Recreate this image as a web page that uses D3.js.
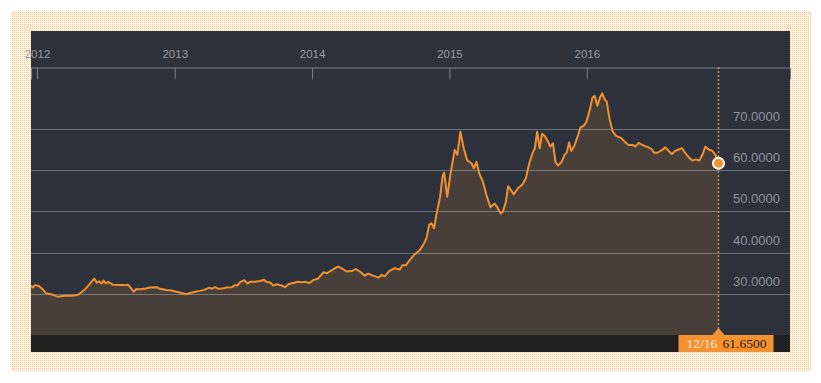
<!DOCTYPE html>
<html>
<head>
<meta charset="utf-8">
<script src="https://cdn.jsdelivr.net/npm/d3@7"></script>
<style>
  body { margin: 0; background: #fff; }
  text { font-family: "Liberation Sans", Arial, sans-serif; }
  text.tag { font-family: "Liberation Serif", "Times New Roman", serif; }
</style>
</head>
<body>
<div id="chart"></div>
<script>
// price history
var dates = [
  "2011-12-16","2011-12-21","2011-12-27","2012-01-06","2012-01-16","2012-01-25","2012-02-07","2012-02-25","2012-03-14","2012-03-31",
  "2012-04-18","2012-04-27","2012-05-10","2012-05-23","2012-06-01","2012-06-08","2012-06-14","2012-06-21","2012-06-26","2012-07-02",
  "2012-07-08","2012-07-20","2012-08-06","2012-08-24","2012-08-30","2012-09-07","2012-09-14","2012-09-20","2012-10-03","2012-10-16",
  "2012-10-27","2012-11-14","2012-11-22","2012-12-10","2012-12-23","2013-01-06","2013-01-20","2013-01-31","2013-02-11","2013-02-24",
  "2013-03-09","2013-03-22","2013-04-03","2013-04-09","2013-04-18","2013-04-27","2013-05-06","2013-05-19","2013-06-02","2013-06-10",
  "2013-06-16","2013-06-24","2013-07-05","2013-07-13","2013-07-20","2013-08-02","2013-08-16","2013-08-26","2013-09-03","2013-09-11",
  "2013-09-20","2013-09-29","2013-10-12","2013-10-21","2013-10-30","2013-11-12","2013-11-25","2013-12-04","2013-12-13","2013-12-25",
  "2014-01-04","2014-01-17","2014-01-31","2014-02-10","2014-02-22","2014-03-03","2014-03-11","2014-03-20","2014-04-03","2014-04-16",
  "2014-04-27","2014-05-08","2014-05-21","2014-05-30","2014-06-12","2014-06-26","2014-07-05","2014-07-13","2014-07-25",
  "2014-08-09","2014-08-22","2014-08-29","2014-09-07","2014-09-18","2014-10-01","2014-10-14","2014-10-23","2014-11-01","2014-11-08",
  "2014-11-14","2014-11-21","2014-11-28","2014-12-07","2014-12-14","2014-12-18","2014-12-26","2015-01-04","2015-01-15","2015-01-22",
  "2015-01-30","2015-02-08","2015-02-17","2015-03-01","2015-03-07","2015-03-14","2015-03-21","2015-03-31","2015-04-09","2015-04-20",
  "2015-05-01","2015-05-08","2015-05-17","2015-05-23","2015-05-31","2015-06-06",
  "2015-06-10","2015-06-21","2015-07-02","2015-07-14","2015-07-23","2015-08-01","2015-08-10","2015-08-16","2015-08-22","2015-08-29",
  "2015-09-04","2015-09-11","2015-09-20","2015-09-26","2015-10-03","2015-10-10","2015-10-17","2015-10-26","2015-11-03","2015-11-09",
  "2015-11-15","2015-11-21","2015-11-30","2015-12-09","2015-12-15","2015-12-24","2015-12-31","2016-01-09","2016-01-16","2016-01-22",
  "2016-01-29","2016-02-06","2016-02-11","2016-02-17","2016-02-23","2016-03-01","2016-03-10","2016-03-19","2016-04-01","2016-04-13",
  "2016-04-21",
  "2016-05-02","2016-05-09","2016-05-18","2016-05-27","2016-06-04","2016-06-13","2016-06-22","2016-06-28","2016-07-07","2016-07-19",
  "2016-07-28","2016-08-05","2016-08-14","2016-08-23","2016-09-01","2016-09-10","2016-09-19","2016-09-30","2016-10-08","2016-10-17",
  "2016-10-26","2016-11-04","2016-11-11","2016-11-20","2016-11-29","2016-12-08","2016-12-16"
];
var values = [
  31.9,31.6,32.1,31.9,31.1,30.1,29.9,29.3,29.5,29.5,
  29.7,30.3,31.3,32.7,33.7,32.7,33.0,32.5,33.2,32.5,
  32.9,32.2,32.1,32.1,32.2,31.3,30.5,31.1,31.1,31.3,
  31.5,31.6,31.2,30.9,30.8,30.5,30.2,29.9,30.2,30.5,
  30.7,31.0,31.5,31.2,31.6,31.2,31.3,31.5,31.6,32.1,
  32.0,32.8,33.3,32.5,32.9,32.9,33.1,33.4,32.8,32.8,
  32.0,32.3,32.0,31.6,32.3,32.6,32.9,32.8,32.9,32.6,
  33.3,33.7,35.2,35.0,35.7,36.2,36.6,36.2,35.4,35.5,
  36.0,35.4,34.4,34.9,34.4,33.9,34.6,34.2,35.5,
  36.2,35.9,36.9,36.9,38.2,39.6,40.6,41.8,43.5,46.7,
  47.1,45.9,49.5,53.5,58.6,59.4,53.5,59.2,64.9,63.7,
  69.3,65.3,62.4,61.6,60.4,62.0,59.2,57.2,54.0,51.0,
  51.9,51.0,49.5,49.9,52.3,56.1,
  55.6,54.1,55.6,56.5,58.0,61.6,64.1,65.3,69.3,65.3,
  68.8,68.3,66.9,65.7,66.5,61.9,61.1,62.0,63.7,64.3,
  66.7,64.6,66.1,68.5,70.3,70.8,71.7,74.6,77.6,78.0,
  75.6,77.8,78.6,77.2,76.6,72.6,69.3,68.3,67.8,66.7,
  66.1,
  66.1,65.7,66.6,66.1,65.8,65.5,65.0,64.2,64.2,64.9,
  65.5,64.7,63.9,64.7,65.0,65.3,64.1,62.9,62.3,62.6,
  62.3,63.9,65.7,65.0,64.7,63.7,61.65
];
var yearTicks = ["2012", "2013", "2014", "2015", "2016"];
var priceTicks = [30, 40, 50, 60, 70];

var width = 821, height = 383;
var panel = {left: 31, top: 31, right: 790, bottom: 352};
var plotTop = 67, plotBottom = 335, lastX = 718.5;
var orange = "#f0912e";

var svg = d3.select("#chart")
  .append("svg")
    .attr("width", width)
    .attr("height", height);

// beige dotted frame
var pat = svg.append("defs").append("pattern")
    .attr("id", "dots")
    .attr("width", 2).attr("height", 2)
    .attr("patternUnits", "userSpaceOnUse");
pat.append("rect").attr("width", 2).attr("height", 2).attr("fill", "#fcf1de");
pat.append("rect").attr("width", 1).attr("height", 1).attr("fill", "#f1cf9e");
svg.append("rect")
    .attr("x", 11).attr("y", 11)
    .attr("width", 800).attr("height", 360)
    .attr("fill", "url(#dots)");

// dark panel + bottom strip
svg.append("rect")
    .attr("x", panel.left).attr("y", panel.top)
    .attr("width", panel.right - panel.left)
    .attr("height", panel.bottom - panel.top)
    .attr("fill", "#2c313c");
svg.append("rect")
    .attr("x", panel.left).attr("y", plotBottom)
    .attr("width", panel.right - panel.left)
    .attr("height", panel.bottom - plotBottom)
    .attr("fill", "#212121");

var parse = d3.timeParse("%Y-%m-%d");
var data = dates.map(function(d, i) { return {date: parse(d), value: values[i]}; });

var x = d3.scaleTime()
  .domain(d3.extent(data, function(d) { return d.date; }))
  .range([panel.left, lastX]);
var y = d3.scaleLinear()
  .domain([20, 85])
  .range([plotBottom, plotTop]);

// area under the line
svg.append("path")
    .datum(data)
    .attr("fill", orange)
    .attr("fill-opacity", 0.15)
    .attr("d", d3.area()
      .x(function(d) { return x(d.date); })
      .y0(plotBottom)
      .y1(function(d) { return y(d.value); }));

// grid lines + price labels
svg.append("g")
  .selectAll("line")
  .data(priceTicks)
  .enter()
  .append("line")
    .attr("x1", panel.left).attr("x2", panel.right)
    .attr("y1", function(d) { return Math.round(y(d)) + 0.5; })
    .attr("y2", function(d) { return Math.round(y(d)) + 0.5; })
    .attr("stroke", "#fff")
    .attr("stroke-opacity", 0.3);

svg.append("g")
  .selectAll("text")
  .data(priceTicks)
  .enter()
  .append("text")
    .attr("x", 780)
    .attr("y", function(d) { return y(d) - 8; })
    .attr("text-anchor", "end")
    .attr("font-size", 13)
    .attr("fill", "#8f949c")
    .text(function(d) { return d3.format(".4f")(d); });

// time axis across the top
var xAxisScale = x.copy()
  .domain([x.domain()[0], x.invert(panel.right)])
  .range([panel.left, panel.right]);
var xAxis = svg.append("g")
    .attr("transform", "translate(0," + (plotTop + 0.5) + ")")
    .call(d3.axisTop(xAxisScale)
      .tickValues(yearTicks.map(function(t) { return parse(t + "-01-01"); }))
      .tickFormat(d3.timeFormat("%Y"))
      .tickSizeInner(-12)
      .tickSizeOuter(-12)
      .tickPadding(10));
xAxis.select(".domain").attr("stroke", "#7b7f86");
xAxis.selectAll(".tick line").attr("stroke", "#7b7f86");
xAxis.selectAll(".tick text")
    .attr("fill", "#989ca3")
    .attr("font-size", 11.5);

// price line
svg.append("path")
    .datum(data)
    .attr("fill", "none")
    .attr("stroke", orange)
    .attr("stroke-width", 2)
    .attr("stroke-linejoin", "round")
    .attr("d", d3.line()
      .x(function(d) { return x(d.date); })
      .y(function(d) { return y(d.value); }));

// last point marker
var last = data[data.length - 1];
var lx = x(last.date);
svg.append("line")
    .attr("x1", lx).attr("x2", lx)
    .attr("y1", plotTop).attr("y2", plotBottom)
    .attr("stroke", "#c78f3a")
    .attr("stroke-width", 1.5)
    .attr("stroke-dasharray", "2,2");
svg.append("circle")
    .attr("cx", lx).attr("cy", y(last.value))
    .attr("r", 5.5)
    .attr("fill", orange)
    .attr("stroke", "#fff")
    .attr("stroke-width", 2);

// value tag in the bottom strip
svg.append("rect")
    .attr("x", lx - 40).attr("y", plotBottom)
    .attr("width", 95).attr("height", panel.bottom - plotBottom)
    .attr("fill", "#f39232");
svg.append("path")
    .attr("d", "M" + (lx - 6) + "," + plotBottom + "L" + lx + "," + (plotBottom - 7) + "L" + (lx + 6) + "," + plotBottom + "Z")
    .attr("fill", "#f39232");
svg.append("text")
    .attr("class", "tag")
    .attr("x", lx - 32).attr("y", panel.bottom - 4)
    .attr("font-size", 13.5)
    .attr("fill", "#fdebd3")
    .text(d3.timeFormat("%m/%d")(last.date));
svg.append("text")
    .attr("class", "tag")
    .attr("x", lx + 4).attr("y", panel.bottom - 4)
    .attr("font-size", 13.5)
    .attr("fill", "#2a1a0a")
    .text(d3.format(".4f")(last.value));
</script>
</body>
</html>
